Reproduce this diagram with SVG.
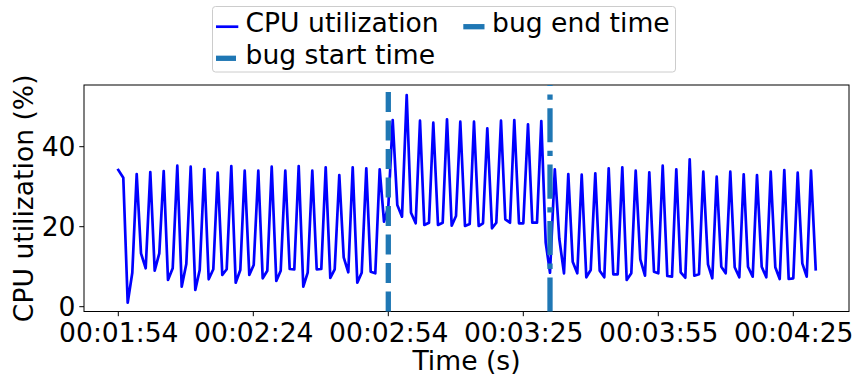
<svg xmlns="http://www.w3.org/2000/svg" width="854" height="377" viewBox="0 0 854 377">
<style>
text{font-family:"DejaVu Sans","Liberation Sans",sans-serif;font-size:26.6px;fill:#000}
.tick{stroke:#000;stroke-width:1}
.spine{fill:none;stroke:#000;stroke-width:1}
.cpu{fill:none;stroke:#0000ff;stroke-width:2.7;stroke-linejoin:round;stroke-linecap:square}
.bugstart{stroke:#1f77b4;stroke-width:5.3;stroke-dasharray:20 8.5;fill:none}
.bugend{stroke:#1f77b4;stroke-width:5.3;stroke-dasharray:34.1 8.5 5.3 8.5;fill:none}
</style>
<rect x="0" y="0" width="854" height="377" fill="#fff"/>
<g id="axes">
<rect class="spine" x="84" y="85" width="765" height="226.5"/>
<g id="yticks">
<line class="tick" x1="79.3" y1="306.7" x2="84" y2="306.7"/>
<line class="tick" x1="79.3" y1="226.7" x2="84" y2="226.7"/>
<line class="tick" x1="79.3" y1="146.7" x2="84" y2="146.7"/>
<text x="75.5" y="316" text-anchor="end">0</text>
<text x="75.5" y="236" text-anchor="end">20</text>
<text x="75.5" y="156" text-anchor="end">40</text>
</g>
<g id="xticks">
<line class="tick" x1="118.3" y1="311.5" x2="118.3" y2="316.2"/>
<line class="tick" x1="253.3" y1="311.5" x2="253.3" y2="316.2"/>
<line class="tick" x1="388.3" y1="311.5" x2="388.3" y2="316.2"/>
<line class="tick" x1="523.3" y1="311.5" x2="523.3" y2="316.2"/>
<line class="tick" x1="658.3" y1="311.5" x2="658.3" y2="316.2"/>
<line class="tick" x1="793.3" y1="311.5" x2="793.3" y2="316.2"/>
<text x="118.8" y="341.5" text-anchor="middle">00:01:54</text>
<text x="253.8" y="341.5" text-anchor="middle">00:02:24</text>
<text x="388.8" y="341.5" text-anchor="middle">00:02:54</text>
<text x="523.8" y="341.5" text-anchor="middle">00:03:25</text>
<text x="658.8" y="341.5" text-anchor="middle">00:03:55</text>
<text x="793.8" y="341.5" text-anchor="middle">00:04:25</text>
</g>
<text id="xlabel" x="466.5" y="370" text-anchor="middle">Time (s)</text>
<text id="ylabel" transform="translate(33.3,198.3) rotate(-90)" text-anchor="middle">CPU utilization (%)</text>
</g>
<g id="connectors">
<polyline id="cpu" class="cpu" points="118.3,170 123.3,177.7 127.7,302.7 132.3,272.7 136.7,174 141,253.3 145.7,268.3 150.3,172 154.7,270.7 159.3,253.3 163.7,171 168,280 172.7,268.3 177.3,165.7 181.7,286.7 186.3,264 190.7,166.7 195.3,290 199.7,270 204.3,169 208.7,279.3 213.3,269.3 217.7,172.7 222.3,275 226.7,269.3 231.3,166 235.7,282.7 240.3,270 244.7,170.7 249.3,275 253.7,265 258.3,170.7 262.7,278.3 267.3,270.7 271.7,166.7 276.3,281 280.7,270.7 285.3,170.7 289.7,269 294.3,269.3 298.7,166 303.3,286.7 307.7,272.7 312.3,170.7 316.7,269.3 321.3,269 325.7,167.3 330.3,278 334.7,269.3 339.3,175 343.7,257.3 348.3,272.3 352.7,167.3 357.3,282.7 361.7,272.7 366.3,168.3 370.7,271.7 375.3,273.3 379.7,169.3 384,221.7 388.3,206.7 392.7,120 397.3,205 402,216.7 406.7,95 411,212.7 415.7,223.3 420,120.7 424.3,225 429,222.7 433.3,122.7 438,225 442.7,222.7 447,119.3 451.7,225.7 456,216 460.3,121.7 465,226 469.7,224 474,121.7 478.7,226 483,223.3 487.3,128.3 492,228.3 496.3,222.7 501,120.7 505.3,219.3 510,222.7 514.3,120 519,223.3 523.3,223.3 528,124.3 532.3,222.7 537,222.7 541.3,121 545.7,242.5 550,272.7 554.8,169.3 559.3,238.8 564,273.3 568.3,174 572.7,261.7 577.3,273.3 581.7,174.7 586.3,277.3 590.7,270 595.3,173.3 599.7,270.7 604.3,277.3 608.7,168.3 613.3,274.3 617.7,274.3 622.3,167.3 626.7,280 631.3,273.3 635.7,170.7 640.3,259.3 645,275.7 649.3,172.3 654,271.7 658.3,273.3 662.7,165.7 667.3,276 672,276.7 676.3,169.3 680.7,272.3 685.3,277.7 689.7,159.3 694.3,275.7 699,274.3 703.3,171.7 708,264.3 712.3,278.3 716.7,176.7 721.3,266.7 725.7,273.3 730.3,171.7 734.7,267.3 739.3,277.3 743.7,174.3 748,266.7 752.7,276.7 757,175 761.7,266.7 766.3,277.3 770.7,171.7 775.3,267.3 779.7,279 784.3,170 788.7,279 793.3,278.3 797.7,172.7 802.3,263.3 806.7,276.7 811,170.7 815.7,269.3"/>
<line id="bug-start" class="bugstart" x1="388.3" y1="311.5" x2="388.3" y2="85"/>
<line id="bug-end" class="bugend" x1="550" y1="311.5" x2="550" y2="85"/>
</g>
<g id="legend">
<rect x="212.5" y="6.5" width="463" height="65.5" rx="3" ry="3" fill="#fff" fill-opacity="0.8" stroke="#cccccc" stroke-width="1"/>
<line x1="216" y1="26.7" x2="238.3" y2="26.7" stroke="#0000ff" stroke-width="2.7"/>
<text x="245.5" y="32">CPU utilization</text>
<line x1="216" y1="58.3" x2="236" y2="58.3" stroke="#1f77b4" stroke-width="5.3"/>
<text x="245.5" y="63.5">bug start time</text>
<line x1="463.3" y1="26.7" x2="484.5" y2="26.7" stroke="#1f77b4" stroke-width="5.3"/>
<text x="492" y="32">bug end time</text>
</g>
</svg>
